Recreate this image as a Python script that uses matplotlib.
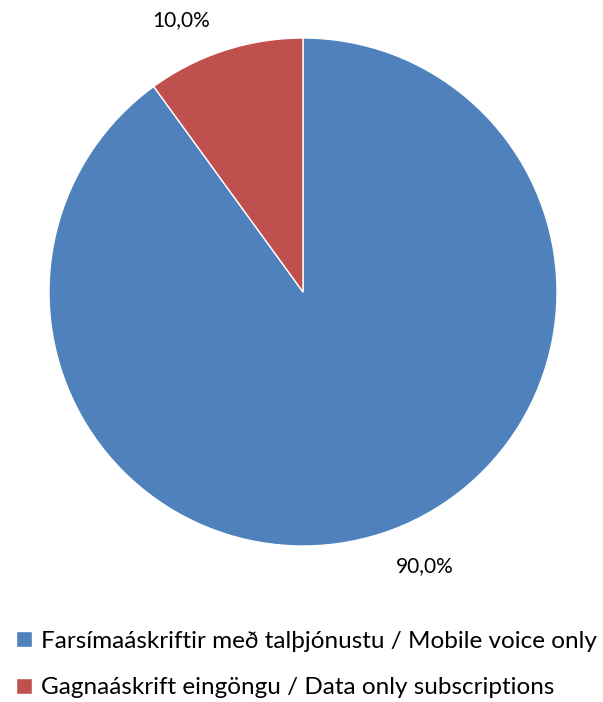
import matplotlib
matplotlib.use('Agg')
import matplotlib.pyplot as plt

categories = ['Farsímaáskriftir með talþjónustu / Mobile voice only',
              'Gagnaáskrift eingöngu / Data only subscriptions']
shares = [90.0, 10.0]
colors = ['#4F81BD', '#C0504D']
# label positions in pie data units
label_pos = [(0.48, -1.08), (-0.48, 1.07)]

plt.rcParams['font.family'] = ['Lato', 'DejaVu Sans']

fig = plt.figure(figsize=(6.03, 7.02), dpi=100)
ax = fig.add_axes([49 / 603, 156 / 702, 508 / 603, 508 / 702])
wedges, _ = ax.pie(shares, colors=colors, startangle=90, counterclock=False,
                   radius=1, wedgeprops=dict(edgecolor='white', linewidth=1))
ax.set_xlim(-1, 1)
ax.set_ylim(-1, 1)
ax.set_aspect('equal')
ax.axis('off')

for (x, y), v in zip(label_pos, shares):
    ax.text(x, y, f'{v:.1f}%'.replace('.', ','), ha='center', va='center',
            fontsize=15, color='#000000', clip_on=False)

fig.legend(wedges, categories, loc='upper left', bbox_to_anchor=(6 / 603, 1 - 621 / 702),
           frameon=False, fontsize=17.5, handlelength=0.65, handleheight=0.65,
           handletextpad=0.4, labelspacing=1.05, borderaxespad=0)

fig.savefig('out.png', dpi=100)
